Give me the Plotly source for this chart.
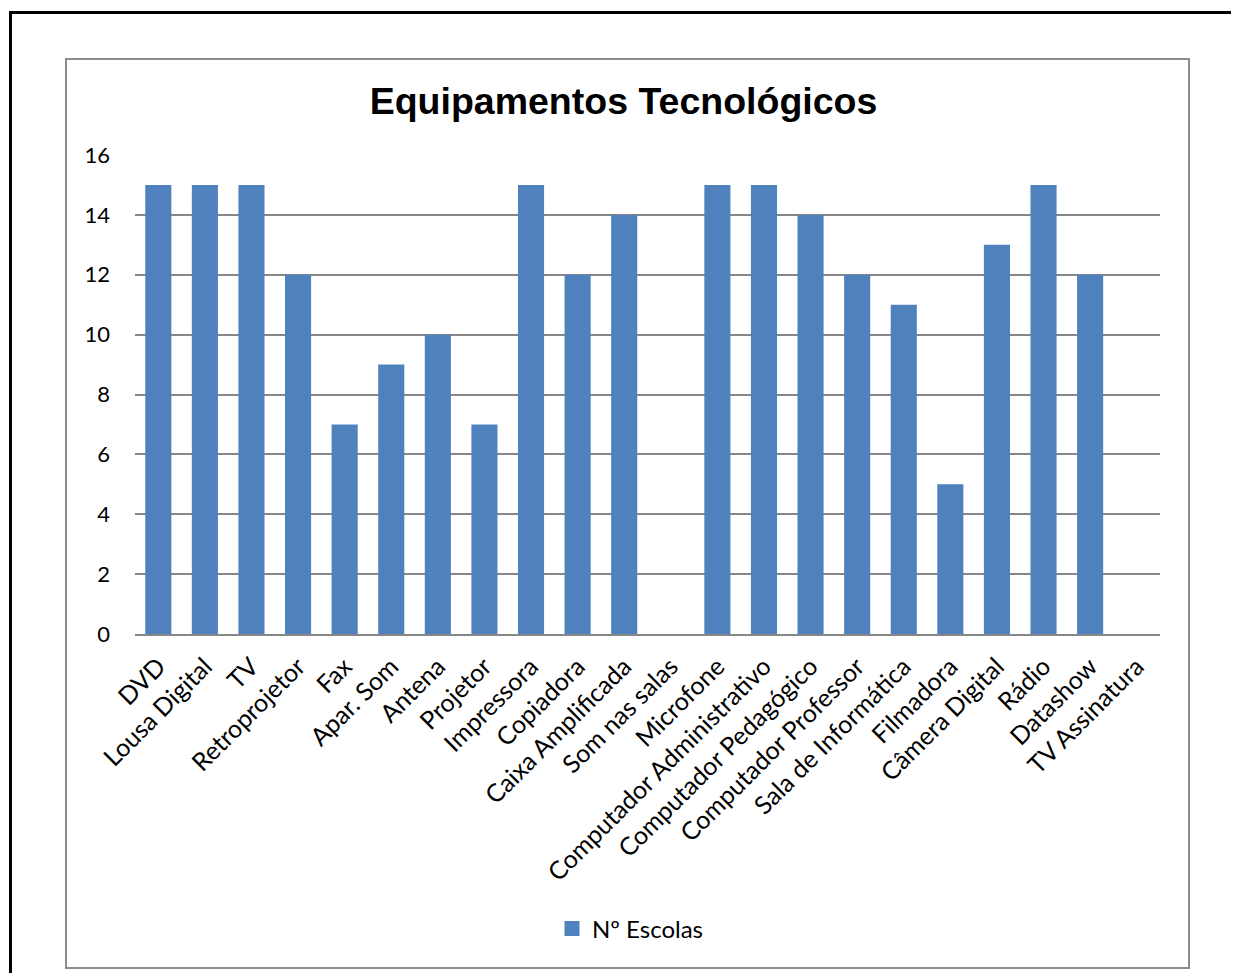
import plotly.graph_objects as go

categories = ["DVD", "Lousa Digital", "TV", "Retroprojetor", "Fax", "Apar. Som", "Antena",
              "Projetor", "Impressora", "Copiadora", "Caixa Amplificada", "Som nas salas",
              "Microfone", "Computador Administrativo", "Computador Pedagógico",
              "Computador Professor", "Sala de Informática", "Filmadora", "Câmera Digital",
              "Rádio", "Datashow", "TV Assinatura"]
values = [15, 15, 15, 12, 7, 9, 10, 7, 15, 12, 14, 0, 15, 15, 14, 12, 11, 5, 13, 15, 12, 0]
y_ticks = [0, 2, 4, 6, 8, 10, 12, 14, 16]
series_name = "Nº Escolas"

OFF = 8                      # page body margin
W, H = 1239 - OFF, 973 - OFF
FONT = "Lato"
BAR_COLOR = "#4F81BD"

# plot area in page pixels
PL, PR, PT, PB = 135, 1160, 155, 634
pw, ph = PR - PL, PB - PT


def px(x):
    return (x - PL) / pw


def py(y):
    return (PB - y) / ph


fig = go.Figure()
fig.add_trace(go.Bar(x=categories, y=values, name=series_name,
                     marker=dict(color=BAR_COLOR, line=dict(width=0)),
                     width=0.56, showlegend=False))
# legend-only entry with a larger square swatch
fig.add_trace(go.Scatter(x=[None], y=[None], mode="markers", name=series_name,
                         marker=dict(symbol="square", size=15, color=BAR_COLOR),
                         showlegend=True))

fig.update_layout(
    width=W, height=H,
    paper_bgcolor="white", plot_bgcolor="white",
    margin=dict(l=PL - OFF, r=W + OFF - PR, t=PT - OFF, b=H + OFF - PB, autoexpand=False),
    title=dict(text="<b>Equipamentos Tecnológicos</b>", x=0.5, xanchor="center",
               y=1 - (101 - OFF) / H, yanchor="middle",
               font=dict(family="Liberation Sans, Arial", size=37.5, color="black")),
    font=dict(family=FONT, size=20, color="black"),
    xaxis=dict(tickangle=-45, tickfont=dict(size=25), showgrid=False,
               showline=True, linecolor="#878787", linewidth=2,
               ticks="", range=[-0.5, len(categories) - 0.5], fixedrange=True,
               ticklabelstandoff=6),
    yaxis=dict(range=[0, 16], tickvals=y_ticks, showgrid=True, gridcolor="#878787",
               gridwidth=1.5, zeroline=False, showline=False, ticks="",
               tickfont=dict(size=22), ticklabelstandoff=24),
    legend=dict(orientation="h", x=px(552), xanchor="left", y=(H - (929 - OFF)) / H,
                yanchor="middle", xref="paper", yref="container",
                font=dict(size=24), itemwidth=30),
    bargap=0.44,
    shapes=[
        dict(type="rect", xref="paper", yref="paper", layer="below",
             x0=px(66), x1=px(1189), y0=py(968), y1=py(59),
             line=dict(color="#8C8C8C", width=2)),
        dict(type="line", xref="paper", yref="paper",
             x0=px(10), x1=px(1245), y0=py(12.5), y1=py(12.5),
             line=dict(color="black", width=3)),
        dict(type="line", xref="paper", yref="paper",
             x0=px(10.5), x1=px(10.5), y0=py(11), y1=py(980),
             line=dict(color="black", width=3)),
    ],
)

fig.write_html("out.html")
